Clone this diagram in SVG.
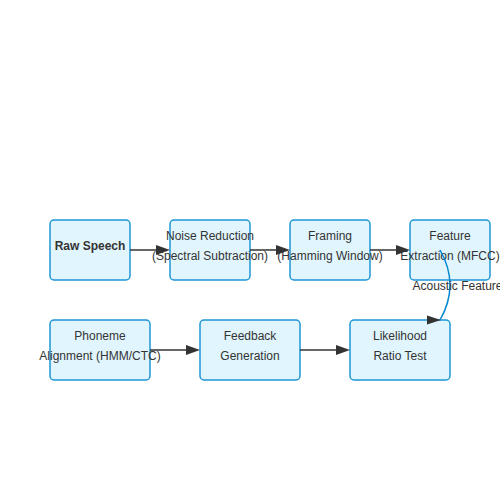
<svg xmlns="http://www.w3.org/2000/svg" width="500" height="500" viewBox="0 0 500 500">
<style>
.box{fill:#e1f5fe;stroke:#1e96d6;stroke-width:1.5}
.t{font-family:"Liberation Sans",Arial,sans-serif;font-size:12px;fill:#333;text-anchor:middle}
.b{font-weight:bold}
.ln{stroke:#333;stroke-width:1.5;fill:none}
.ah{fill:#333}
</style>
<rect width="500" height="500" fill="#fff"/>
<g id="raw">
<rect class="box" x="50" y="220" width="80" height="60" rx="4"/>
<text class="t b" x="90" y="250">Raw Speech</text>
</g>
<g id="noise">
<rect class="box" x="170" y="220" width="80" height="60" rx="4"/>
<text class="t" x="210" y="240">Noise Reduction</text>
<text class="t" x="210" y="260">(Spectral Subtraction)</text>
</g>
<g id="framing">
<rect class="box" x="290" y="220" width="80" height="60" rx="4"/>
<text class="t" x="330" y="240">Framing</text>
<text class="t" x="330" y="260">(Hamming Window)</text>
</g>
<g id="feature">
<rect class="box" x="410" y="220" width="80" height="60" rx="4"/>
<text class="t" x="450" y="240">Feature</text>
<text class="t" x="450" y="260">Extraction (MFCC)</text>
</g>
<g id="phoneme">
<rect class="box" x="50" y="320" width="100" height="60" rx="4"/>
<text class="t" x="100" y="340">Phoneme</text>
<text class="t" x="100" y="360">Alignment (HMM/CTC)</text>
</g>
<g id="feedback">
<rect class="box" x="200" y="320" width="100" height="60" rx="4"/>
<text class="t" x="250" y="340">Feedback</text>
<text class="t" x="250" y="360">Generation</text>
</g>
<g id="likelihood">
<rect class="box" x="350" y="320" width="100" height="60" rx="4"/>
<text class="t" x="400" y="340">Likelihood</text>
<text class="t" x="400" y="360">Ratio Test</text>
</g>
<g id="connectors">
<line class="ln" x1="130" y1="250" x2="158" y2="250"/>
<polygon class="ah" points="156,245 170,250 156,255"/>
<line class="ln" x1="250" y1="250" x2="278" y2="250"/>
<polygon class="ah" points="276,245 290,250 276,255"/>
<line class="ln" x1="370" y1="250" x2="398" y2="250"/>
<polygon class="ah" points="396,245 410,250 396,255"/>
<line class="ln" x1="150" y1="350" x2="188" y2="350"/>
<polygon class="ah" points="186,345 200,350 186,355"/>
<line class="ln" x1="300" y1="350" x2="338" y2="350"/>
<polygon class="ah" points="336,345 350,350 336,355"/>
<path d="M440,250 Q460,285 440,320" fill="none" stroke="#0288d1" stroke-width="1.5"/>
<polygon class="ah" points="427,315.5 441,320 427,324.5"/>
<text class="t" x="412.5" y="290" style="text-anchor:start">Acoustic Features</text>
</g>
</svg>
